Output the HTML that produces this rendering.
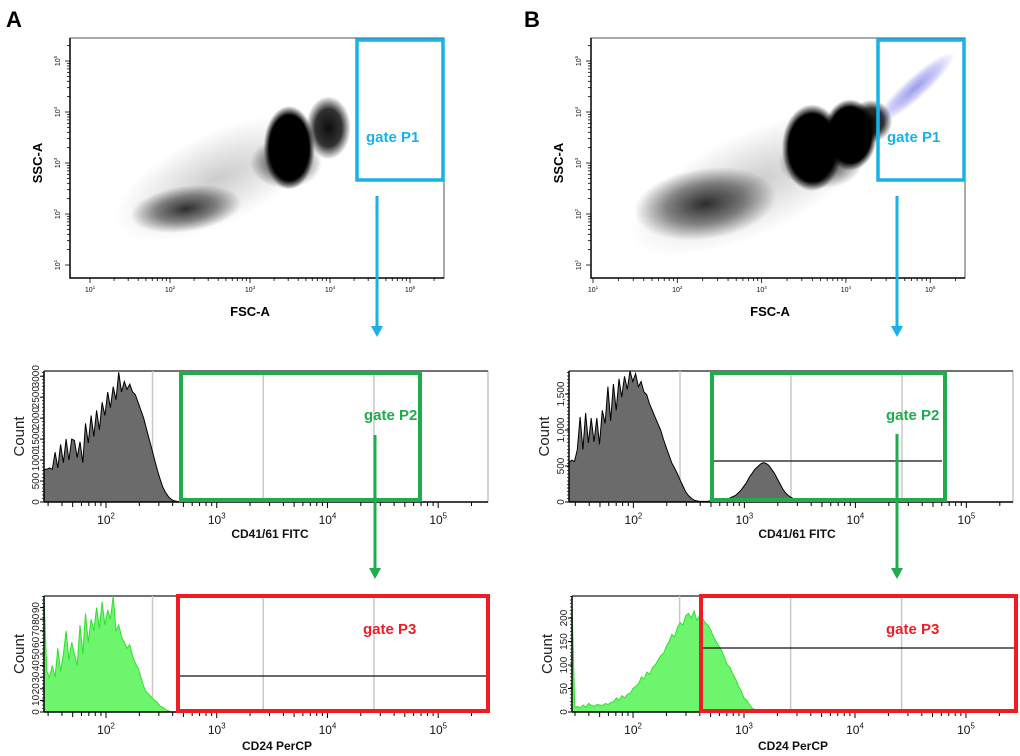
<!DOCTYPE html>
<html><head><meta charset="utf-8"><style>
html,body{margin:0;padding:0;background:#fff;}
svg{display:block;font-family:"Liberation Sans",Arial,sans-serif;}
</style></head><body>
<svg id="fig" width="1020" height="756" viewBox="0 0 1020 756" xmlns="http://www.w3.org/2000/svg">
<defs>
<radialGradient id="gCore"><stop offset="0" stop-color="#000" stop-opacity="1"/><stop offset="0.78" stop-color="#000" stop-opacity="1"/><stop offset="1" stop-color="#000" stop-opacity="0"/></radialGradient>
<radialGradient id="gDense"><stop offset="0" stop-color="#000" stop-opacity="0.95"/><stop offset="0.6" stop-color="#000" stop-opacity="0.8"/><stop offset="1" stop-color="#000" stop-opacity="0"/></radialGradient>
<radialGradient id="gSoft"><stop offset="0" stop-color="#000" stop-opacity="0.8"/><stop offset="0.55" stop-color="#000" stop-opacity="0.45"/><stop offset="1" stop-color="#000" stop-opacity="0"/></radialGradient>
<radialGradient id="gFaint"><stop offset="0" stop-color="#000" stop-opacity="0.2"/><stop offset="1" stop-color="#000" stop-opacity="0"/></radialGradient>
<radialGradient id="gBlue"><stop offset="0" stop-color="#2020d0" stop-opacity="0.45"/><stop offset="0.6" stop-color="#3030e0" stop-opacity="0.25"/><stop offset="1" stop-color="#3030e0" stop-opacity="0"/></radialGradient>
</defs>
<text x="6" y="27" font-size="22" font-weight="bold">A</text>
<text x="524" y="27" font-size="22" font-weight="bold">B</text>
</svg>
<script>
// ===== Histogram data (counts per log10 bin) =====
const a1Start = 1.44, a1Step = 0.025, a1Max = 100;
const a1Counts = [25,25,26,25,38,26,44,30,48,32,48,47,34,46,30,60,45,66,50,70,55,76,66,84,72,88,78,99,84,92,86,90,84,82,76,70,64,56,48,40,32,24,17,11,7,4,2,1,0.5,0,0];
const a1YTicks = [0,500,1000,1500,2000,2500,3000];
const a1YTickVals = [0,16,32,48,64,80,96];

const a2Start = 1.44, a2Step = 0.025, a2Max = 100;
const a2Counts = [100,35,30,40,30,55,35,50,70,45,60,50,40,75,50,85,60,80,70,90,72,95,75,88,80,100,70,75,65,60,55,58,48,42,38,30,22,17,15,12,10,8,5,4,2,1,0,0];
const a2YTicks = ['0','10','20','30','40','50','60','70','80','90'];
const a2YTickVals = [0,10,20,30,40,50,60,70,80,90];

const b1Start = 1.42, b1Step = 0.025, b1Max = 1820;
const b1Counts = [546,582,564,728,1183,728,1238,819,1165,837,1165,801,1274,1092,1602,1128,1638,1274,1711,1456,1747,1565,1820,1674,1784,1602,1674,1529,1492,1365,1274,1183,1092,1001,874,764,655,546,473,400,310,228,146,91,55,27,15,9,9,9,9,18,18,18,27,27,36,36,55,73,91,127,164,218,273,346,400,455,491,528,546,537,510,455,400,328,255,182,127,91,64,46,27,18,9,5,4,0,0];
const b1YTicks = ['0','500','1,000','1,500'];
const b1YTickVals = [0,500,1000,1500];

const b2Start = 1.45, b2Step = 0.025, b2Max = 247;
const b2Counts = [230,10,12,8,15,10,18,14,12,16,15,14,18,16,20,22,30,25,35,30,38,40,50,55,60,75,70,85,80,95,100,110,120,125,140,150,165,160,180,190,185,205,210,200,215,195,205,200,190,185,175,160,150,140,130,115,100,95,80,70,55,45,30,25,15,8,5,2,1,0];
const b2YTicks = ['0','50','100','150','200'];
const b2YTickVals = [0,50,100,150,200];

const gridLogs = [2.42, 3.42, 4.42];
const xDecades = [2, 3, 4, 5];

// ===== Scatter clusters (log10 FSC, log10 SSC, spread) =====
const sAcx = [2.6, 2.2, 3.49, 3.98, 3.45];
const sAcy = [2.7, 2.1, 3.3, 3.69, 3.0];
const sAsx = [1.4, 0.7, 0.32, 0.28, 0.45];
const sAsy = [0.9, 0.45, 0.82, 0.62, 0.5];
const sAkind = ['gFaint','gSoft','gCore','gDense','gSoft'];
const sArot = [-25, -8, 0, 0, 0];

const sBcx = [2.9, 2.33, 3.6, 4.05, 4.3, 4.82, 3.7];
const sBcy = [2.6, 2.2, 3.3, 3.55, 3.82, 4.47, 3.0];
const sBsx = [1.6, 0.85, 0.36, 0.32, 0.25, 0.62, 0.5];
const sBsy = [1.0, 0.7, 0.85, 0.7, 0.42, 0.22, 0.5];
const sBkind = ['gFaint','gSoft','gCore','gCore','gDense','gBlue','gSoft'];
const sBrot = [-25, -8, 0, 0, 0, -42, 0];

const NS = 'http://www.w3.org/2000/svg';
const svg = document.getElementById('fig');
function mk(tag, attrs, parent) {
  const e = document.createElementNS(NS, tag);
  for (const k in attrs) e.setAttribute(k, attrs[k]);
  (parent || svg).appendChild(e);
  return e;
}
function expText(x, y, exp, size, parent, anchor) {
  const t = mk('text', {x: x, y: y, 'font-size': size, 'text-anchor': anchor || 'middle', fill: '#111'}, parent);
  t.textContent = '10';
  const s = mk('tspan', {dy: -size * 0.45, 'font-size': size * 0.65}, t);
  s.textContent = exp;
  return t;
}

function drawHist(p, counts, start, step, ymax, yLabels, yVals, fill, stroke, name) {
  const g = mk('g', {});
  
  
  const sx = L => p.x0 + (L - p.lmin) / (p.lmax - p.lmin) * (p.x1 - p.x0);
  const sy = v => p.yb - (Math.min(v, ymax) / ymax) * (p.yb - p.yt);
  const frame = mk('rect', {x: p.x0, y: p.yt, width: p.x1 - p.x0, height: p.yb - p.yt, fill: '#fff', stroke: '#aaa', 'stroke-width': 1}, g);
  
  
  const top = mk('line', {x1: p.x0, y1: p.yt, x2: p.x1, y2: p.yt, stroke: '#444', 'stroke-width': 1.5}, g);
  
  
  gridLogs.forEach(L => {
    const gl = mk('line', {x1: sx(L), y1: p.yt, x2: sx(L), y2: p.yb, stroke: '#c8c8c8', 'stroke-width': 1.5}, g);
    
    
  });
  let d = `M${sx(start)},${p.yb}`;
  counts.forEach((c, i) => { d += `L${sx(start + i * step).toFixed(1)},${sy(c).toFixed(1)}`; });
  d += `L${sx(start + (counts.length - 1) * step)},${p.yb}Z`;
  const area = mk('path', {d: d, fill: fill, stroke: stroke, 'stroke-width': 1}, g);
  
  
  const ax = mk('line', {x1: p.x0, y1: p.yb, x2: p.x1, y2: p.yb, stroke: '#000', 'stroke-width': 1.5}, g);
  
  
  const ay = mk('line', {x1: p.x0, y1: p.yt, x2: p.x0, y2: p.yb, stroke: '#000', 'stroke-width': 1.5}, g);
  
  
  for (let dcd = 1; dcd <= 5; dcd++) {
    for (let k = 1; k <= 9; k++) {
      const L = dcd + Math.log10(k);
      if (L < p.lmin || L > p.lmax) continue;
      const tk = mk('line', {x1: sx(L), y1: p.yb, x2: sx(L), y2: p.yb + (k === 1 ? 6 : (k === 5 ? 5 : 4)), stroke: '#000', 'stroke-width': 1}, g);
      
      
    }
  }
  xDecades.forEach(dcd => {
    const t = expText(sx(dcd), p.yb + 22, String(dcd), 12, g);
    
    
  });
  yVals.forEach((v, i) => {
    const y = sy(v);
    const tk = mk('line', {x1: p.x0 - 4, y1: y, x2: p.x0, y2: y, stroke: '#000'}, g);
    
    
    const t = mk('text', {x: p.x0 - 5, y: y, 'font-size': 10, 'text-anchor': 'middle', transform: `rotate(-90 ${p.x0 - 5} ${y})`, fill: '#222'}, g);
    t.textContent = yLabels[i];
    
    
  });
  for (let y = p.yb; y > p.yt; y -= 3.5) {
    const mt = mk('line', {x1: p.x0 - 2, y1: y, x2: p.x0, y2: y, stroke: '#000', 'stroke-width': 0.7}, g);
    
    
  }
  const cy = (p.yt + p.yb) / 2;
  const yl = mk('text', {x: p.x0 - 20, y: cy, 'font-size': 15, 'text-anchor': 'middle', transform: `rotate(-90 ${p.x0 - 20} ${cy})`, fill: '#222'}, g);
  yl.textContent = 'Count';
  
  
  const xl = mk('text', {x: p.tx, y: p.ty, 'font-size': 12, 'font-weight': 'bold', 'text-anchor': 'middle', fill: '#111'}, g);
  xl.textContent = p.title;
  
  
  return {sx, sy};
}

function drawScatter(p, cx, cy, sxs, sys, kind, rot, name) {
  const g = mk('g', {});
  
  
  const X = L => p.xRef + (L - 1) * p.xDec;
  const Y = L => p.yRef - (L - 1) * p.yDec;
  const clip = mk('clipPath', {id: name + '-clip'}, g);
  mk('rect', {x: p.x0, y: p.yt, width: p.x1 - p.x0, height: p.yb - p.yt}, clip);
  const cg = mk('g', {'clip-path': `url(#${name}-clip)`}, g);
  cx.forEach((v, i) => {
    const ex = X(v), ey = Y(cy[i]);
    const e = mk('ellipse', {cx: ex, cy: ey, rx: sxs[i] * p.xDec, ry: sys[i] * p.yDec, fill: `url(#${kind[i]})`, transform: `rotate(${rot[i]} ${ex} ${ey})`}, cg);
    
    
  });
  const fr = mk('rect', {x: p.x0, y: p.yt, width: p.x1 - p.x0, height: p.yb - p.yt, fill: 'none', stroke: '#555', 'stroke-width': 1}, g);
  
  
  const ax = mk('path', {d: `M${p.x0},${p.yt}V${p.yb}H${p.x1}`, fill: 'none', stroke: '#000', 'stroke-width': 1.5}, g);
  
  
  for (let dcd = 1; dcd <= 5; dcd++) {
    for (let k = 1; k <= 9; k++) {
      const L = dcd + Math.log10(k);
      const x = X(L);
      if (x > p.x0 && x < p.x1) {
        const t = mk('line', {x1: x, y1: p.yb, x2: x, y2: p.yb + (k === 1 ? 5 : 3), stroke: '#000', 'stroke-width': 0.8}, g);
        
        
      }
      const y = Y(L);
      if (y > p.yt && y < p.yb) {
        const t = mk('line', {x1: p.x0 - (k === 1 ? 5 : 3), y1: y, x2: p.x0, y2: y, stroke: '#000', 'stroke-width': 0.8}, g);
        
        
      }
    }
    const xl = expText(X(dcd), p.yb + 14, String(dcd), 7, g);
    
    
    const yy = Y(dcd);
    const yl = expText(p.x0 - 10, yy, String(dcd), 7, g);
    yl.setAttribute('transform', `rotate(-90 ${p.x0 - 10} ${yy})`);
    
    
  }
  const xt = mk('text', {x: p.tx, y: 316, 'font-size': 13, 'font-weight': 'bold', 'text-anchor': 'middle'}, g);
  xt.textContent = 'FSC-A';
  
  
  const yc = 163;
  const yt = mk('text', {x: p.x0 - 28, y: yc, 'font-size': 13, 'font-weight': 'bold', 'text-anchor': 'middle', transform: `rotate(-90 ${p.x0 - 28} ${yc})`}, g);
  yt.textContent = 'SSC-A';
  
  
}

function gate(x, y, w, h, color, sw, label, lx, ly, name) {
  const r = mk('rect', {x: x, y: y, width: w, height: h, fill: 'none', stroke: color, 'stroke-width': sw});
  
  
  const t = mk('text', {x: lx, y: ly, 'font-size': 15, 'font-weight': 'bold', fill: color});
  t.textContent = label;
  
  
}
function arrow(x, y1, y2, color, name) {
  const l = mk('line', {x1: x, y1: y1, x2: x, y2: y2 - 9, stroke: color, 'stroke-width': 3});
  
  
  const h = mk('polygon', {points: `${x - 6},${y2 - 11} ${x + 6},${y2 - 11} ${x},${y2}`, fill: color});
  
  
}

drawScatter({x0: 70, x1: 444, yt: 38, yb: 278, xRef: 90, xDec: 80, yRef: 265, yDec: 51, tx: 250}, sAcx, sAcy, sAsx, sAsy, sAkind, sArot, 'scatter-a');
drawScatter({x0: 591, x1: 965, yt: 38, yb: 278, xRef: 593, xDec: 84.3, yRef: 265, yDec: 51, tx: 770}, sBcx, sBcy, sBsx, sBsy, sBkind, sBrot, 'scatter-b');

drawHist({x0: 44, x1: 488, yt: 371, yb: 502, lmin: 1.44, lmax: 5.45, tx: 270, ty: 538, title: 'CD41/61 FITC'}, a1Counts, a1Start, a1Step, a1Max, a1YTicks.map(String), a1YTickVals, '#6b6b6b', '#000', 'histogram-a-cd41');
drawHist({x0: 44, x1: 488, yt: 596, yb: 712, lmin: 1.44, lmax: 5.45, tx: 277, ty: 750, title: 'CD24 PerCP'}, a2Counts, a2Start, a2Step, a2Max, a2YTicks, a2YTickVals, '#6ef56e', '#2fe02f', 'histogram-a-cd24');
drawHist({x0: 569, x1: 1013, yt: 371, yb: 502, lmin: 1.42, lmax: 5.42, tx: 797, ty: 538, title: 'CD41/61 FITC'}, b1Counts, b1Start, b1Step, b1Max, b1YTicks, b1YTickVals, '#6b6b6b', '#000', 'histogram-b-cd41');
drawHist({x0: 572, x1: 1017, yt: 596, yb: 712, lmin: 1.45, lmax: 5.46, tx: 793, ty: 750, title: 'CD24 PerCP'}, b2Counts, b2Start, b2Step, b2Max, b2YTicks, b2YTickVals, '#6ef56e', '#2fe02f', 'histogram-b-cd24');

const m1 = mk('line', {x1: 714, y1: 461, x2: 942, y2: 461, stroke: '#111', 'stroke-width': 1.2});


const m2 = mk('line', {x1: 180, y1: 676, x2: 487, y2: 676, stroke: '#111', 'stroke-width': 1.2});


const m3 = mk('line', {x1: 702, y1: 648, x2: 1015, y2: 648, stroke: '#111', 'stroke-width': 1.2});



const BLUE = '#1ab1e9', GREEN = '#1fac4b', RED = '#ee1c24';
gate(357, 40, 86, 140, BLUE, 3.5, 'gate P1', 366, 142, 'gate-p1-a');
gate(878, 40, 86, 140, BLUE, 3.5, 'gate P1', 887, 142, 'gate-p1-b');
gate(181, 373, 239, 127, GREEN, 4, 'gate P2', 364, 420, 'gate-p2-a');
gate(712, 373, 233, 127, GREEN, 4, 'gate P2', 886, 420, 'gate-p2-b');
gate(178, 596, 310, 115, RED, 4, 'gate P3', 363, 634, 'gate-p3-a');
gate(701, 596, 315, 115, RED, 4, 'gate P3', 886, 634, 'gate-p3-b');

arrow(377, 196, 337, BLUE, 'arrow-p1-to-p2-a');
arrow(897, 196, 337, BLUE, 'arrow-p1-to-p2-b');
arrow(375, 435, 579, GREEN, 'arrow-p2-to-p3-a');
arrow(897, 434, 579, GREEN, 'arrow-p2-to-p3-b');
</script>
</body></html>
